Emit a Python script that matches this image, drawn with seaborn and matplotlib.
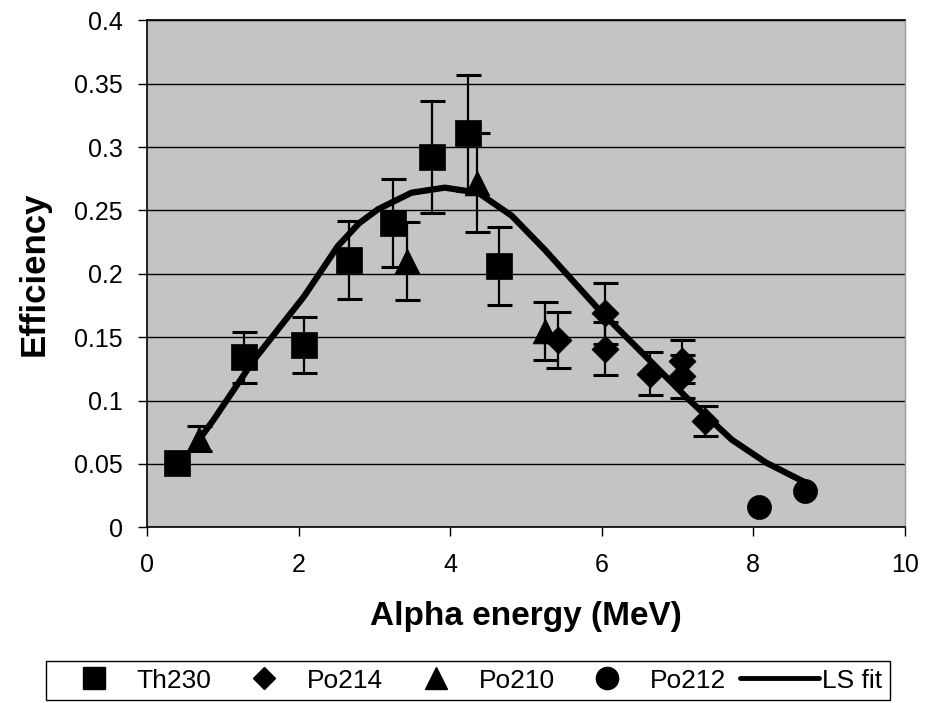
import numpy as np
import pandas as pd
import matplotlib
matplotlib.use("Agg")
import matplotlib.pyplot as plt
import seaborn as sns
from matplotlib.lines import Line2D

# ---- data ----
th230_x = [0.39, 1.28, 2.07, 2.66, 3.25, 3.76, 4.23, 4.64]
th230_y = [0.051, 0.134, 0.144, 0.211, 0.240, 0.292, 0.311, 0.206]
th230_err = [0.0, 0.020, 0.022, 0.031, 0.035, 0.044, 0.046, 0.031]

po214_x = [5.43, 6.05, 6.05, 6.64, 7.06, 7.06, 7.37]
po214_y = [0.148, 0.169, 0.141, 0.121, 0.131, 0.119, 0.084]
po214_err = [0.022, 0.024, 0.021, 0.017, 0.017, 0.017, 0.012]

po210_x = [0.68, 3.43, 4.35, 5.25]
po210_y = [0.070, 0.210, 0.272, 0.155]
po210_err = [0.010, 0.031, 0.039, 0.023]

po212_x = [8.08, 8.68]
po212_y = [0.016, 0.029]

fit_x = [0.60, 0.88, 1.41, 2.07, 2.52, 2.80, 3.05, 3.49, 3.93, 4.37, 4.81, 5.25,
         5.96, 6.58, 7.11, 7.72, 8.17, 8.70]
fit_y = [0.062, 0.085, 0.132, 0.182, 0.222, 0.240, 0.251, 0.264, 0.268, 0.264, 0.246,
         0.219, 0.172, 0.135, 0.103, 0.069, 0.051, 0.035]

series_names = ["Th230", "Po214", "Po210", "Po212"]
x_ticks = [0, 2, 4, 6, 8, 10]
y_ticks = [0, 0.05, 0.1, 0.15, 0.2, 0.25, 0.3, 0.35, 0.4]
y_tick_labels = ["0", "0.05", "0.1", "0.15", "0.2", "0.25", "0.3", "0.35", "0.4"]

# ---- build tables ----
pts = pd.concat([
    pd.DataFrame({"x": th230_x, "y": th230_y, "err": th230_err, "series": "Th230"}),
    pd.DataFrame({"x": po214_x, "y": po214_y, "err": po214_err, "series": "Po214"}),
    pd.DataFrame({"x": po210_x, "y": po210_y, "err": po210_err, "series": "Po210"}),
    pd.DataFrame({"x": po212_x, "y": po212_y, "err": [0.0] * len(po212_x), "series": "Po212"}),
], ignore_index=True)
fit = pd.DataFrame({"x": fit_x, "y": fit_y})

sns.set_theme(style="white")
plt.rcParams["font.family"] = ["Liberation Sans", "DejaVu Sans"]
plt.rcParams["text.color"] = "black"
plt.rcParams["axes.labelcolor"] = "black"
plt.rcParams["xtick.color"] = "black"
plt.rcParams["ytick.color"] = "black"

fig = plt.figure(figsize=(9.25, 7.03), dpi=100)
ax = fig.add_axes([0.159, 0.250, 0.819, 0.721])
ax.set_facecolor("#c4c4c4")

markers = {"Th230": "s", "Po214": "D", "Po210": "^", "Po212": "o"}
sizes = {"Th230": 330, "Po214": 190, "Po210": 320, "Po212": 300}

# error bars
for name in series_names:
    d = pts[pts["series"] == name]
    d = d[d["err"] > 0]
    if len(d):
        ax.errorbar(d["x"], d["y"], yerr=d["err"], fmt="none", ecolor="black",
                    elinewidth=1.6, capsize=9, capthick=2.2, zorder=3)

# fit line
sns.lineplot(data=fit, x="x", y="y", ax=ax, color="black", linewidth=4.5,
             sort=False, estimator=None, zorder=4, legend=False)

# markers
for name in series_names:
    d = pts[pts["series"] == name]
    sns.scatterplot(data=d, x="x", y="y", ax=ax, marker=markers[name],
                    s=sizes[name], color="black", edgecolor="black",
                    linewidth=0.5, zorder=5, legend=False)

ax.set_xlim(0, 10)
ax.set_ylim(0, 0.4)
ax.set_xticks(x_ticks)
ax.set_xticklabels([str(t) for t in x_ticks])
ax.set_yticks(y_ticks)
ax.set_yticklabels(y_tick_labels)
ax.yaxis.grid(True, color="black", linewidth=1.0)
ax.xaxis.grid(False)
ax.set_axisbelow(True)

for side in ["left", "bottom", "top"]:
    ax.spines[side].set_color("black")
    ax.spines[side].set_linewidth(1.2)
ax.spines["right"].set_color("#9a9a9a")
ax.spines["right"].set_linewidth(1.0)

ax.tick_params(axis="both", which="major", direction="out", length=6.5,
               width=1.0, color="black", labelsize=18,
               bottom=True, left=True)
ax.tick_params(axis="y", pad=11)
ax.tick_params(axis="x", pad=12)

ax.set_xlabel("Alpha energy (MeV)", fontsize=24, fontweight="bold", labelpad=17)
ax.set_ylabel("Efficiency", fontsize=25, fontweight="bold", labelpad=17)

handles = [
    Line2D([], [], marker="s", linestyle="none", color="black", markersize=16),
    Line2D([], [], marker="D", linestyle="none", color="black", markersize=11),
    Line2D([], [], marker="^", linestyle="none", color="black", markersize=16),
    Line2D([], [], marker="o", linestyle="none", color="black", markersize=16),
    Line2D([], [], color="black", linewidth=3.5),
]
labels = series_names + ["LS fit"]
leg = fig.legend(handles, labels, loc="center", bbox_to_anchor=(0.506, 0.032),
                 ncol=5, frameon=True, fancybox=False, edgecolor="black",
                 facecolor="white", framealpha=1, fontsize=19,
                 handlelength=3.0, handletextpad=0.12, columnspacing=0.5,
                 borderpad=0.3, borderaxespad=0.0)
leg.get_frame().set_linewidth(1.0)

fig.savefig("out.png", dpi=100)
